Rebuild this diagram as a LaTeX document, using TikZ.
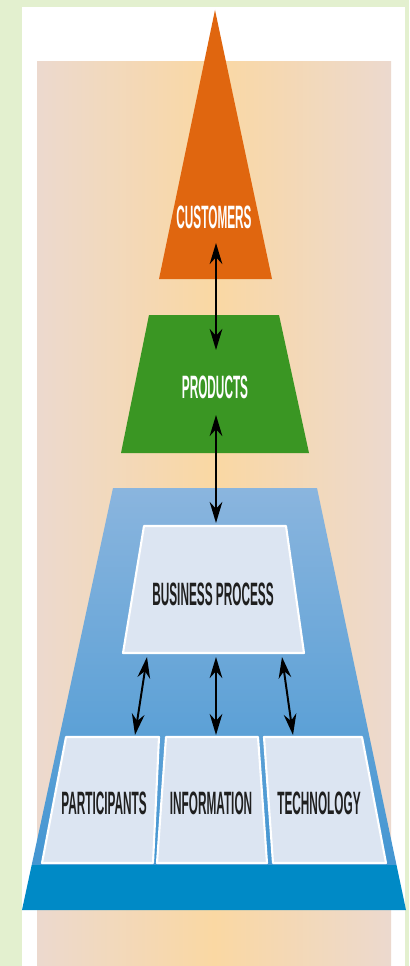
\documentclass[tikz,border=0pt]{standalone}
\usepackage{fontspec}
\setmainfont{Liberation Sans}
\newfontfamily\labelfont[FakeStretch=0.365]{Liberation Sans}
\usetikzlibrary{arrows.meta, positioning, calc}
\definecolor{bggreen}{RGB}{227,240,207}
\definecolor{peachmid}{RGB}{250,216,163}
\definecolor{peachedge}{RGB}{236,217,206}
\definecolor{custorange}{RGB}{224,102,15}
\definecolor{prodgreen}{RGB}{58,150,35}
\definecolor{slabtop}{RGB}{138,181,222}
\definecolor{slabbot}{RGB}{68,150,210}
\definecolor{slabfront}{RGB}{0,138,198}
\definecolor{boxfill}{RGB}{220,229,242}

\begin{document}
\begin{tikzpicture}[x=0.025cm, y=-0.025cm,
  lbl/.style={font=\labelfont\bfseries\fontsize{23}{23}\selectfont, inner sep=0pt},
  darklbl/.style={lbl, text=black!88},
  lightlbl/.style={lbl, text=white},
  flowbox/.style={fill=boxfill, draw=white, line width=1.5pt, line join=round},
  link/.style={{Stealth[length=15pt,width=9pt]}-{Stealth[length=15pt,width=9pt]}, line width=1.4pt}]
\useasboundingbox (0,0) rectangle (409,966);
% Backdrop
\fill[bggreen] (0,0) rectangle (409,966);
\fill[white] (22,7) rectangle (405,966);
\shade[left color=peachedge, right color=peachedge, middle color=peachmid] (37,62) rectangle (391,966);

% Customers
\fill[custorange] (215,10) -- (272,279) -- (159,279) -- cycle;
\node[lightlbl] (cust) at (214,217) {CUSTOMERS};

% Products
\fill[prodgreen] (149,315) -- (279,315) -- (309,453) -- (121,453) -- cycle;
\node[lightlbl] (prod) at (215,387) {PRODUCTS};

% Blue slab
\shade[top color=slabtop, bottom color=slabbot] (113,488) -- (317,488) -- (396.5,865) -- (31.7,865) -- cycle;
\fill[slabfront] (31.7,865) -- (396.5,865) -- (406,910) -- (22,910) -- cycle;

% Process and its parts
\filldraw[flowbox] (144,526) -- (286,526) -- (304,653) -- (123,653) -- cycle;
\node[darklbl] (bp) at (213,594) {BUSINESS PROCESS};
\filldraw[flowbox] (66,737) -- (159,737) -- (153,863) -- (42,863) -- cycle;
\filldraw[flowbox] (166,737) -- (258,737) -- (267,863) -- (157,863) -- cycle;
\filldraw[flowbox] (264,737) -- (362,737) -- (386,863) -- (273,863) -- cycle;
\node[darklbl] (part) at (104,803) {PARTICIPANTS};
\node[darklbl] (info) at (211,803) {INFORMATION};
\node[darklbl] (tech) at (319,803) {TECHNOLOGY};

% Arrow ends
\coordinate (cust-in) at (216,243);
\coordinate (prod-top) at (216,350);
\coordinate (prod-in) at (216,415);
\coordinate (bp-top) at (216,523);
\coordinate (bp-l) at (147,657);
\coordinate (bp-m) at (216,657);
\coordinate (bp-r) at (282,657);
\coordinate (part-top) at (135,735);
\coordinate (info-top) at (216,735);
\coordinate (tech-top) at (293,735);

\draw[link] (cust-in) -- (prod-top);
\draw[link] (prod-in) -- (bp-top);
\draw[link] (bp-l) -- (part-top);
\draw[link] (bp-m) -- (info-top);
\draw[link] (bp-r) -- (tech-top);
\end{tikzpicture}
\end{document}
